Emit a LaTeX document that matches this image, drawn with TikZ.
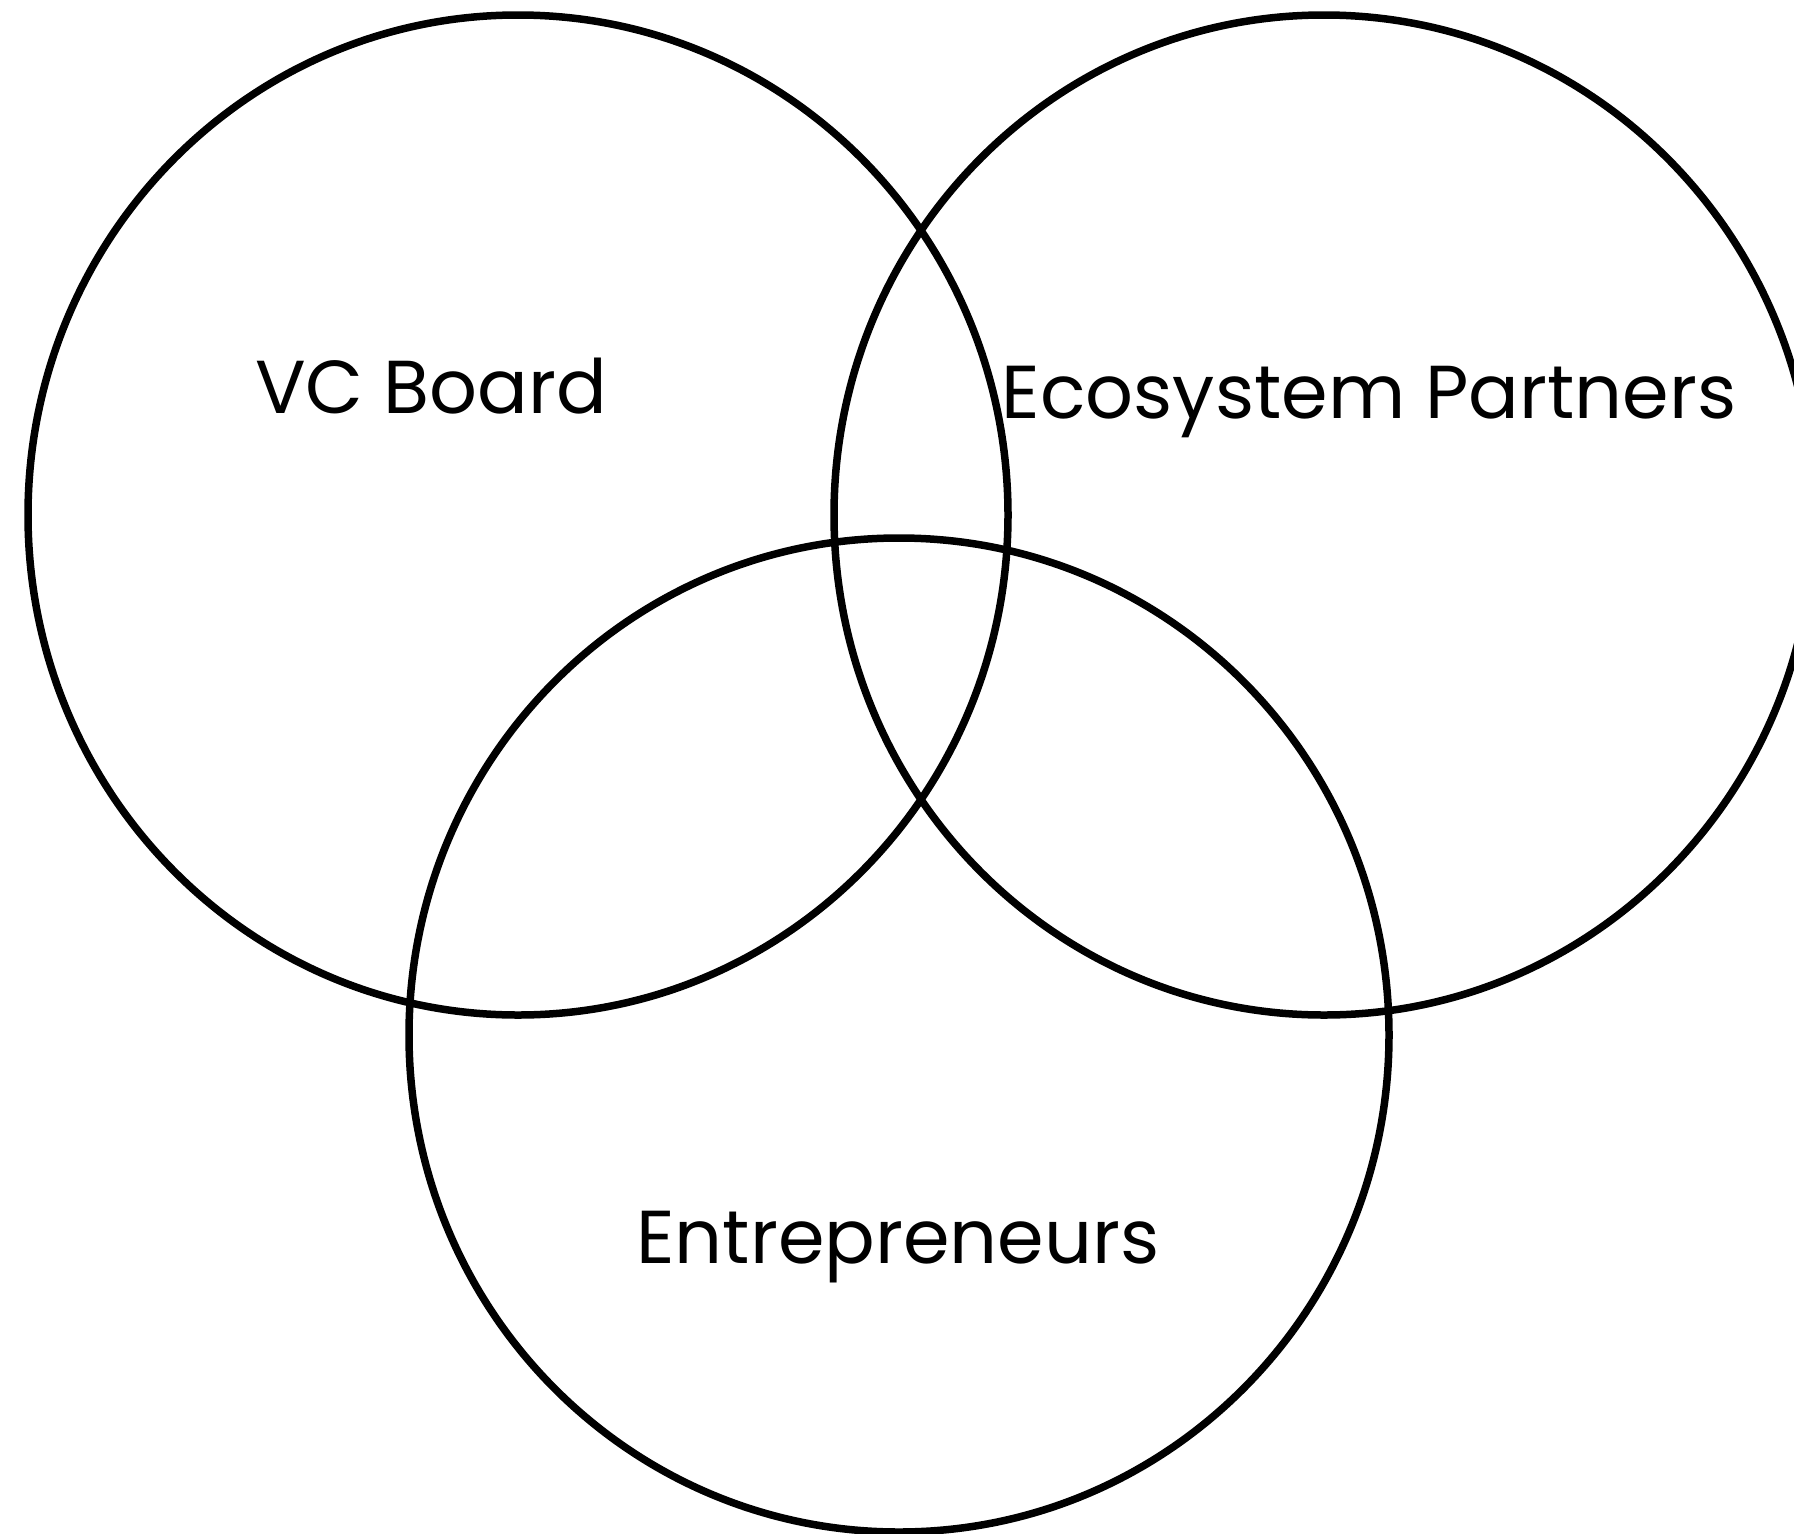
\documentclass[tikz,border=0pt]{standalone}
\usepackage{fontspec}
\setmainfont{Poppins}
\tikzset{
  venn/.style={draw=black,line width=7.5pt},
  setlabel/.style={anchor=base,inner sep=0pt,font=\fontsize{75}{80}\selectfont}
}
\begin{document}
\begin{tikzpicture}[x=1pt,y=-1pt]
        \useasboundingbox (0,0) rectangle (1794,1534);

        \draw[venn](518,515)ellipse[x radius=490pt,y radius=500pt];
        \draw[venn](1324,515)ellipse[x radius=490pt,y radius=500pt];
        \draw[venn](899,1035)ellipse[x radius=490pt,y radius=497pt];

        \node[setlabel](vc)at(431,413){VC Board};
        \node[setlabel](eco)at(1369,418){Ecosystem Partners};
        \node[setlabel](ent)at(898,1263){Entrepreneurs};
    \end{tikzpicture}
\end{document}
